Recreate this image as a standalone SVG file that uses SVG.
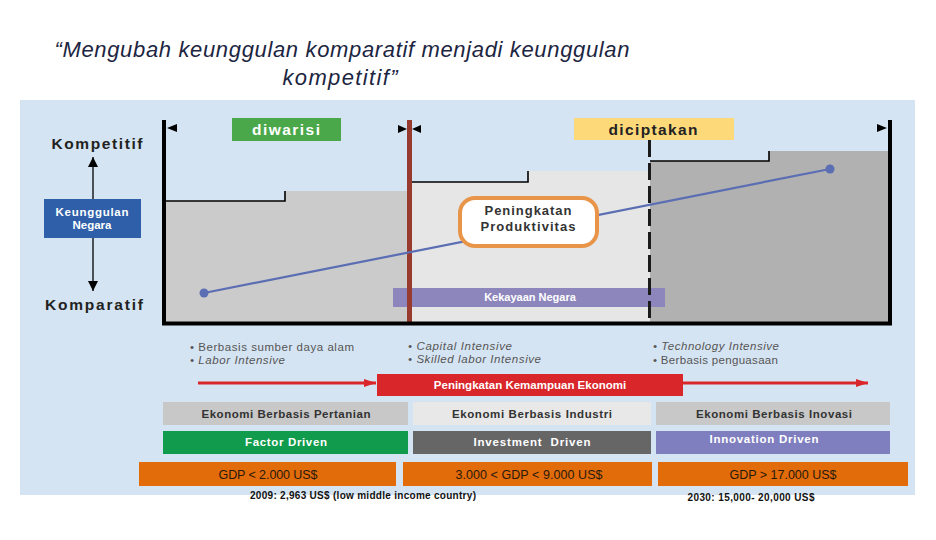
<svg xmlns="http://www.w3.org/2000/svg" width="936" height="540" viewBox="0 0 936 540">
<defs>
<style>
.t{font-family:"Liberation Sans",Arial,sans-serif}
.b{font-weight:bold}
.bul{font-family:"Liberation Sans",Arial,sans-serif;font-size:11.5px;fill:#555}
.row{font-family:"Liberation Sans",Arial,sans-serif;font-size:11.5px;font-weight:bold;text-anchor:middle}
.gdp{font-family:"Liberation Sans",Arial,sans-serif;font-size:12.5px;fill:#2a1a0a;text-anchor:middle}
.note{font-family:"Liberation Sans",Arial,sans-serif;font-size:10px;font-weight:bold;fill:#111;text-anchor:middle}
.ax{stroke:#000;stroke-width:4;fill:none}
.step{stroke:#000;stroke-width:1.6;fill:none}
</style>
<marker id="ah" viewBox="0 0 10 10" refX="10" refY="5" markerWidth="10" markerHeight="10" markerUnits="userSpaceOnUse" orient="auto"><path d="M0,0 L10,5 L0,10 z" fill="#000"/></marker>
<marker id="rh" viewBox="0 0 12 8" refX="12" refY="4" markerWidth="12" markerHeight="8" markerUnits="userSpaceOnUse" orient="auto"><path d="M0,0 L12,4 L0,8 z" fill="#d9262a"/></marker>
</defs>
<rect x="0" y="0" width="936" height="540" fill="#fff"/>
<g id="title">
<text class="t" x="342" y="57" font-size="22" font-style="italic" fill="#1c2541" text-anchor="middle" textLength="575">“Mengubah keunggulan komparatif menjadi keunggulan</text>
<text class="t" x="340" y="85" font-size="22" font-style="italic" fill="#1c2541" text-anchor="middle" textLength="115">kompetitif”</text>
</g>
<rect id="panel" x="20" y="100" width="895" height="395" fill="#d5e4f2"/>
<g id="regions">
<path d="M164,201 H285 V191 H409 V323 H164 z" fill="#cbcbcb"/>
<path d="M409,182 H528 V171 H650 V323 H409 z" fill="#e6e6e6"/>
<path d="M650,161 H769 V151 H890 V323 H650 z" fill="#b1b1b1"/>
<path class="step" d="M164,201 H285 V191"/>
<path class="step" d="M409,182 H528 V171"/>
<path class="step" d="M650,161 H769 V151"/>
</g>
<g id="kekayaan">
<rect x="393" y="288" width="272" height="19" fill="#8d86bd"/>
<text class="t b" x="530" y="301" font-size="11" fill="#fff" text-anchor="middle">Kekayaan Negara</text>
</g>
<g id="axes">
<line x1="409.5" y1="120" x2="409.5" y2="323" stroke="#993a2e" stroke-width="5"/>
<line x1="649.5" y1="140" x2="649.5" y2="322" stroke="#1a1a1a" stroke-width="3" stroke-dasharray="17,6"/>
<path class="ax" d="M164,120 V323.5 H890 V120"/>
</g>
<g id="trend">
<line x1="204" y1="293" x2="830" y2="169" stroke="#5b6db3" stroke-width="2.2"/>
<circle cx="204" cy="293" r="4.5" fill="#5b6db3"/>
<circle cx="830" cy="169" r="4.5" fill="#5b6db3"/>
</g>
<g id="produktivitas">
<rect x="460" y="198" width="137" height="48" rx="15" fill="#fff" stroke="#e8954a" stroke-width="4"/>
<text class="t b" x="528" y="215" font-size="13" fill="#333" text-anchor="middle" textLength="87">Peningkatan</text>
<text class="t b" x="528" y="231" font-size="13" fill="#333" text-anchor="middle" textLength="95">Produktivitas</text>
</g>
<g id="brackets">
<path d="M167,128 L177,124 L177,132 z" fill="#000"/>
<path d="M407,129 L398,125 L398,133 z" fill="#000"/>
<path d="M412,129 L421,125 L421,133 z" fill="#000"/>
<path d="M887,128 L877,124 L877,132 z" fill="#000"/>
</g>
<g id="diwarisi">
<rect x="232" y="118" width="109" height="23" fill="#4aa84a"/>
<text class="t b" x="286" y="135" font-size="15.5" fill="#fff" text-anchor="middle" textLength="68">diwarisi</text>
</g>
<g id="diciptakan">
<rect x="574" y="118" width="160" height="22" fill="#fdd97a"/>
<text class="t b" x="653" y="135" font-size="15.5" fill="#222" text-anchor="middle" textLength="89">diciptakan</text>
</g>
<g id="kompetitif">
<text class="t b" x="97" y="149" font-size="15.5" fill="#222" text-anchor="middle" textLength="91">Kompetitif</text>
</g>
<g id="komparatif">
<text class="t b" x="94" y="310" font-size="15.5" fill="#222" text-anchor="middle" textLength="98">Komparatif</text>
</g>
<g id="keunggulan">
<rect x="44" y="199" width="97" height="39" fill="#2f5fa8"/>
<text class="t b" x="92" y="216" font-size="11.5" fill="#fff" text-anchor="middle" textLength="73">Keunggulan</text>
<text class="t b" x="92" y="229" font-size="11.5" fill="#fff" text-anchor="middle">Negara</text>
</g>
<g id="connectors">
<line x1="93" y1="199" x2="93" y2="157" stroke="#000" stroke-width="1.3" marker-end="url(#ah)"/>
<line x1="93" y1="238" x2="93" y2="291" stroke="#000" stroke-width="1.3" marker-end="url(#ah)"/>
<line x1="198" y1="383" x2="376" y2="383" stroke="#d9262a" stroke-width="3" marker-end="url(#rh)"/>
<line x1="683" y1="383" x2="868" y2="383" stroke="#d9262a" stroke-width="3" marker-end="url(#rh)"/>
</g>
<g id="bullets">
<text class="bul" x="190" y="351" textLength="164">• Berbasis sumber daya alam</text>
<text class="bul" x="190" y="364" font-style="italic" textLength="95">• Labor Intensive</text>
<text class="bul" x="408" y="350" font-style="italic" textLength="104">• Capital Intensive</text>
<text class="bul" x="408" y="363" font-style="italic" textLength="133">• Skilled labor Intensive</text>
<text class="bul" x="653" y="350" font-style="italic" textLength="126">• Technology Intensive</text>
<text class="bul" x="653" y="364" textLength="125">• Berbasis penguasaan</text>
</g>
<g id="kemampuan">
<rect x="377" y="374" width="306" height="22" fill="#d9262a"/>
<text class="t b" x="530" y="389" font-size="11.5" fill="#fff" text-anchor="middle">Peningkatan Kemampuan Ekonomi</text>
</g>
<g id="pertanian">
<rect x="163" y="402" width="245" height="23" fill="#c8c8c8"/>
<text class="row" x="286" y="418" fill="#333" textLength="169">Ekonomi Berbasis Pertanian</text>
</g>
<g id="industri">
<rect x="413" y="402" width="238" height="23" fill="#e8e8e8"/>
<text class="row" x="532" y="418" fill="#333" textLength="160">Ekonomi Berbasis Industri</text>
</g>
<g id="inovasi">
<rect x="656" y="402" width="234" height="23" fill="#c8c8c8"/>
<text class="row" x="774" y="418" fill="#333" textLength="156">Ekonomi Berbasis Inovasi</text>
</g>
<g id="factor">
<rect x="163" y="431" width="245" height="23" fill="#109c4c"/>
<text class="row" x="286" y="446" fill="#fff" textLength="82">Factor Driven</text>
</g>
<g id="investment">
<rect x="413" y="431" width="238" height="23" fill="#666"/>
<text class="row" x="532" y="446" fill="#fff" textLength="117" xml:space="preserve">Investment  Driven</text>
</g>
<g id="innovation">
<rect x="656" y="431" width="234" height="23" fill="#7f7fc0"/>
<text class="row" x="764" y="443" fill="#fff" textLength="109">Innovation Driven</text>
</g>
<g id="gdp1">
<rect x="139" y="462" width="257" height="24" fill="#e26b0a"/>
<text class="gdp" x="268" y="479" textLength="99">GDP &lt; 2.000 US$</text>
</g>
<g id="gdp2">
<rect x="403" y="462" width="249" height="24" fill="#e26b0a"/>
<text class="gdp" x="529" y="479" textLength="147">3.000 &lt; GDP &lt; 9.000 US$</text>
</g>
<g id="gdp3">
<rect x="658" y="462" width="250" height="24" fill="#e26b0a"/>
<text class="gdp" x="783" y="479" textLength="107">GDP &gt; 17.000 US$</text>
</g>
<g id="notes">
<text class="note" x="363" y="499" textLength="226">2009: 2,963 US$ (low middle income country)</text>
<text class="note" x="751" y="501" textLength="127">2030: 15,000- 20,000 US$</text>
</g>
</svg>
